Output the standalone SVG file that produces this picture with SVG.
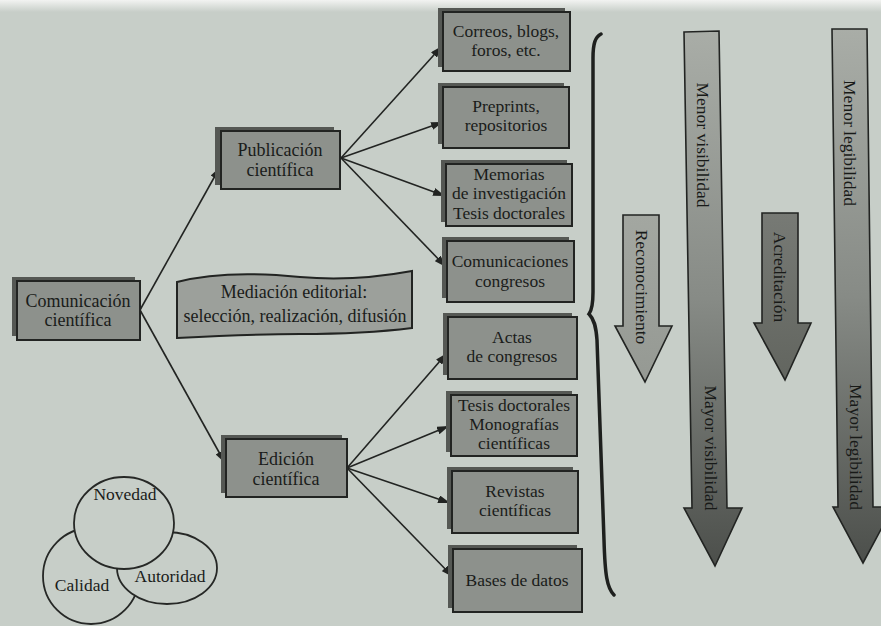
<svg xmlns="http://www.w3.org/2000/svg" width="881" height="626" viewBox="0 0 881 626">
<style>
.bg{fill:#c7cec8}
.sh{fill:#555854}
.bx{fill:#8d918c;stroke:#222422;stroke-width:2}
.t{font-family:"Liberation Serif","Times New Roman",serif;font-size:17.5px;fill:#1a1c1a;text-anchor:middle}
.tb{font-family:"Liberation Serif","Times New Roman",serif;font-size:18px;fill:#1a1c1a;text-anchor:middle}
.tv{font-family:"Liberation Serif","Times New Roman",serif;font-size:17.5px;fill:#181a18;text-anchor:middle;dominant-baseline:central}
.ln{stroke:#222422;stroke-width:1.6;fill:none;marker-end:url(#ah)}
.circ{fill:#c7cec8;stroke:#262826;stroke-width:1.8}
.arr{stroke:#222422;stroke-width:1.6}
</style>
<defs>
<marker id="ah" viewBox="0 0 12 8" refX="12" refY="4" markerWidth="12" markerHeight="8" markerUnits="userSpaceOnUse" orient="auto">
<path d="M0,0 L12,4 L0,8 z" fill="#222422"/>
</marker>
<linearGradient id="gBig" x1="0" y1="0" x2="0" y2="1">
<stop offset="0" stop-color="#a9ada7"/>
<stop offset="0.5" stop-color="#878b86"/>
<stop offset="1" stop-color="#4c4f4b"/>
</linearGradient>
<linearGradient id="gRec" x1="0" y1="0" x2="0" y2="1">
<stop offset="0" stop-color="#a3a7a1"/>
<stop offset="1" stop-color="#959993"/>
</linearGradient>
<linearGradient id="gAcr" x1="0" y1="0" x2="0" y2="1">
<stop offset="0" stop-color="#777a75"/>
<stop offset="1" stop-color="#62655f"/>
</linearGradient>
<linearGradient id="gTop" x1="0" y1="0" x2="0" y2="1">
<stop offset="0" stop-color="#f2f3f1"/>
<stop offset="1" stop-color="#c7cec8"/>
</linearGradient>
</defs>

<rect class="bg" x="0" y="0" width="881" height="626"/>
<rect x="0" y="0" width="881" height="12" fill="url(#gTop)"/>

<g id="connectors">
<line class="ln" x1="140" y1="310" x2="220" y2="167"/>
<line class="ln" x1="140" y1="310" x2="225" y2="463"/>
<line class="ln" x1="341" y1="158" x2="442" y2="46"/>
<line class="ln" x1="341" y1="158" x2="443" y2="122"/>
<line class="ln" x1="341" y1="158" x2="445" y2="196"/>
<line class="ln" x1="341" y1="158" x2="446" y2="267"/>
<line class="ln" x1="347" y1="468" x2="447" y2="353"/>
<line class="ln" x1="347" y1="468" x2="449" y2="426"/>
<line class="ln" x1="347" y1="468" x2="450" y2="503"/>
<line class="ln" x1="347" y1="468" x2="453" y2="577"/>
</g>

<g id="comunicacion">
<rect class="sh" x="12" y="277" width="123" height="59"/>
<rect class="bx" x="17" y="281" width="123" height="59"/>
<text class="tb" x="78" y="307">Comunicación</text>
<text class="tb" x="78" y="326">científica</text>
</g>

<g id="publicacion">
<rect class="sh" x="215" y="127" width="119" height="58"/>
<rect class="bx" x="221" y="131" width="119" height="58"/>
<text class="tb" x="280" y="156">Publicación</text>
<text class="tb" x="280" y="176">científica</text>
</g>

<g id="edicion">
<rect class="sh" x="221" y="435" width="121" height="58"/>
<rect class="bx" x="226" y="439" width="121" height="58"/>
<text class="tb" x="286" y="465">Edición</text>
<text class="tb" x="286" y="485">científica</text>
</g>

<g id="mediacion">
<path d="M177,282 C215,272 260,273 300,277 C345,281 385,276 412,271 L412,328 C380,332 345,334 300,334 C255,334 215,336 177,338 Z" fill="#9ca09b" stroke="#222422" stroke-width="2"/>
<text class="tb" x="294" y="298">Mediación editorial:</text>
<text class="tb" x="295" y="322">selección, realización, difusión</text>
</g>

<g id="correos">
<rect class="sh" x="438" y="8" width="127" height="59"/>
<rect class="bx" x="443" y="12" width="127" height="59"/>
<text class="t" x="506" y="37">Correos, blogs,</text>
<text class="t" x="506" y="56">foros, etc.</text>
</g>
<g id="preprints">
<rect class="sh" x="438" y="83" width="126" height="61"/>
<rect class="bx" x="443" y="87" width="126" height="61"/>
<text class="t" x="506" y="112">Preprints,</text>
<text class="t" x="506" y="131">repositorios</text>
</g>
<g id="memorias">
<rect class="sh" x="441" y="160" width="126" height="62"/>
<rect class="bx" x="446" y="164" width="126" height="62"/>
<text class="t" x="509" y="180">Memorias</text>
<text class="t" x="509" y="199">de investigación</text>
<text class="t" x="509" y="219">Tesis doctorales</text>
</g>
<g id="comunicaciones">
<rect class="sh" x="442" y="237" width="127" height="61"/>
<rect class="bx" x="447" y="241" width="127" height="61"/>
<text class="t" x="510" y="267">Comunicaciones</text>
<text class="t" x="510" y="287">congresos</text>
</g>
<g id="actas">
<rect class="sh" x="443" y="313" width="129" height="62"/>
<rect class="bx" x="448" y="317" width="129" height="62"/>
<text class="t" x="512" y="343">Actas</text>
<text class="t" x="512" y="362">de congresos</text>
</g>
<g id="tesis">
<rect class="sh" x="446" y="391" width="126" height="61"/>
<rect class="bx" x="451" y="395" width="126" height="61"/>
<text class="t" x="514" y="411">Tesis doctorales</text>
<text class="t" x="514" y="430">Monografías</text>
<text class="t" x="514" y="449">científicas</text>
</g>
<g id="revistas">
<rect class="sh" x="447" y="467" width="126" height="62"/>
<rect class="bx" x="452" y="471" width="126" height="62"/>
<text class="t" x="515" y="497">Revistas</text>
<text class="t" x="515" y="516">científicas</text>
</g>
<g id="bases">
<rect class="sh" x="448" y="545" width="129" height="63"/>
<rect class="bx" x="453" y="549" width="129" height="63"/>
<text class="t" x="517" y="586">Bases de datos</text>
</g>

<g id="llave">
<path d="M601,34 C595,37 593,44 593,58 L593,292 C593,304 592,310 589,314 C594,319 596,326 597,340 L604,540 C605,575 607,588 614,595" fill="none" stroke="#1e201e" stroke-width="3.5" stroke-linecap="round"/>
</g>

<g id="reconocimiento">
<polygon class="arr" points="623,215 659,215 659,326 672,326 645,382 615,326 623,326" fill="url(#gRec)"/>
<text class="tv" transform="translate(642,287) rotate(90)">Reconocimiento</text>
</g>

<g id="visibilidad">
<polygon class="arr" points="684,32 719,31 727,508 742,508 715,566 684,508 692,508" fill="url(#gBig)"/>
<text class="tv" transform="translate(703,145) rotate(90)">Menor visibilidad</text>
<text class="tv" transform="translate(711,448) rotate(90)">Mayor visibilidad</text>
</g>

<g id="acreditacion">
<polygon class="arr" points="762,213 798,213 798,323 811,323 785,380 754,323 762,323" fill="url(#gAcr)"/>
<text class="tv" transform="translate(780,277) rotate(90)">Acreditación</text>
</g>

<g id="legibilidad">
<polygon class="arr" points="832,29 867,29 873,507 893,507 863,563 833,507 838,507" fill="url(#gBig)"/>
<text class="tv" transform="translate(850,143) rotate(90)">Menor legibilidad</text>
<text class="tv" transform="translate(856,447) rotate(90)">Mayor legibilidad</text>
</g>

<g id="calidad">
<ellipse class="circ" cx="91" cy="576" rx="48" ry="48"/>
<text class="t" x="82" y="591">Calidad</text>
</g>
<g id="autoridad">
<ellipse class="circ" cx="167" cy="568" rx="50" ry="36"/>
<text class="t" x="170" y="582">Autoridad</text>
</g>
<g id="novedad">
<ellipse class="circ" cx="124" cy="523" rx="50" ry="46"/>
<text class="t" x="125" y="500">Novedad</text>
</g>
</svg>
